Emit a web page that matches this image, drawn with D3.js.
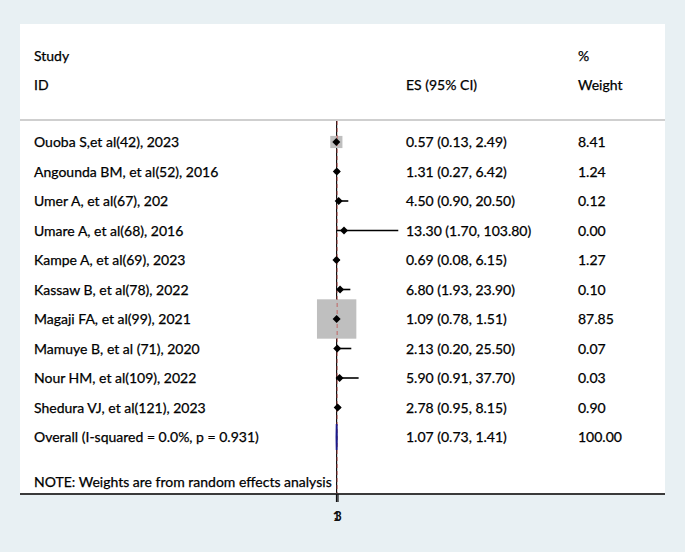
<!DOCTYPE html>
<html><head><meta charset="utf-8">
<script src="https://cdn.jsdelivr.net/npm/d3@7"></script>
<style>
html,body{margin:0;padding:0;background:#e8f0f3;}
svg{display:block;font-family:Lato, "Open Sans", sans-serif;}
</style></head>
<body>
<svg id="chart" width="685" height="552"></svg>
<script>
const studies = ["Ouoba S,et al(42), 2023","Angounda BM, et al(52), 2016","Umer A, et al(67), 202","Umare A, et al(68),  2016","Kampe A, et al(69), 2023","Kassaw B, et al(78), 2022","Magaji FA, et al(99), 2021","Mamuye B, et al (71), 2020","Nour HM, et al(109), 2022","Shedura VJ, et al(121), 2023"];
const es = [0.57,1.31,4.50,13.30,0.69,6.80,1.09,2.13,5.90,2.78];
const lower = [0.13,0.27,0.90,1.70,0.08,1.93,0.78,0.20,0.91,0.95];
const upper = [2.49,6.42,20.50,103.80,6.15,23.90,1.51,25.50,37.70,8.15];
const weights = [8.41,1.24,0.12,0.00,1.27,0.10,87.85,0.07,0.03,0.90];
const overall = {label:"Overall  (I-squared = 0.0%, p = 0.931)", es:1.07, lo:0.73, hi:1.41, w:100.00};
const tickValues = [0, 2.5];
const tickLabels = ["1", "3"];

const svg = d3.select("#chart");
const fmt = d3.format(".2f");
const panel = {x0:20, x1:665, y0:24, y1:494};
svg.append("rect").attr("x",panel.x0).attr("y",panel.y0).attr("width",panel.x1-panel.x0).attr("height",panel.y1-panel.y0).attr("fill","#fff");

const x = d3.scaleLinear().domain([0,104]).range([336,398.4]);
const rows = studies.map((s,i)=>i);
const y = d3.scalePoint().domain(d3.range(11)).range([142,437]);
const fs = 14;
const colES = 406;

function styleText(g){ g.attr("font-size",fs).attr("fill","#000").attr("stroke","#000").attr("stroke-width",0.25); }

// header
const hdr = svg.append("g").call(styleText);
hdr.append("text").attr("x",34).attr("y",61).text("Study");
hdr.append("text").attr("x",34).attr("y",90).text("ID");
hdr.append("text").attr("x",colES).attr("y",90).text("ES (95% CI)");
hdr.append("text").attr("x",578).attr("y",61).text("%");
hdr.append("text").attr("x",578).attr("y",90).text("Weight");
svg.append("line").attr("x1",panel.x0).attr("x2",panel.x1).attr("y1",120).attr("y2",120).attr("stroke","#cfcfcf").attr("stroke-width",2);

// null line
svg.append("line").attr("x1",x(1)).attr("x2",x(1)).attr("y1",121).attr("y2",502).attr("stroke","#111").attr("stroke-width",1.2);

// boxes
const bk = 4.2;
svg.append("g").selectAll("rect").data(rows).join("rect")
  .attr("x",i=>x(es[i])-bk*Math.sqrt(weights[i])/2)
  .attr("y",i=>y(i)-bk*Math.sqrt(weights[i])/2)
  .attr("width",i=>bk*Math.sqrt(weights[i]))
  .attr("height",i=>bk*Math.sqrt(weights[i]))
  .attr("fill","#bfbfbf");

// overall dashed line
svg.append("line").attr("x1",x(overall.es)+0.5).attr("x2",x(overall.es)+0.5).attr("y1",121).attr("y2",494)
  .attr("stroke","#c0504d").attr("stroke-width",1).attr("stroke-dasharray","4,3").attr("opacity",0.8);

// CI lines
const xmax = x.domain()[1];
svg.append("g").selectAll("line").data(rows).join("line")
  .attr("x1",i=>x(lower[i])).attr("x2",i=>x(Math.min(upper[i],xmax)))
  .attr("y1",i=>y(i)).attr("y2",i=>y(i)).attr("stroke","#000").attr("stroke-width",1.6);
// arrows for truncated CIs
svg.append("g").selectAll("path").data(rows.filter(i=>upper[i]>xmax)).join("path")
  .attr("d",i=>{const ax=x(xmax), ay=y(i); return `M${ax-3},${ay-7} Q${ax+1},${ay} ${ax-3},${ay+7}`;})
  .attr("fill","none").attr("stroke","#000").attr("stroke-width",1.6);

// point diamonds
const ds = 4;
svg.append("g").selectAll("path").data(rows).join("path")
  .attr("d",i=>{const cx=x(es[i]), cy=y(i); return `M${cx-ds},${cy} L${cx},${cy-ds} L${cx+ds},${cy} L${cx},${cy+ds} Z`;})
  .attr("fill","#000");

// overall diamond
const oy = y(10);
svg.append("path")
  .attr("d",`M${x(overall.lo)},${oy} L${x(overall.es)},${oy-13} L${x(overall.hi)},${oy} L${x(overall.es)},${oy+13} Z`)
  .attr("fill","#1a1a8c").attr("stroke","#1a1a8c").attr("stroke-width",1.8);

// row texts
const tg = svg.append("g").call(styleText);
tg.selectAll("text.s").data(rows).join("text").attr("class","s").attr("x",34).attr("y",i=>y(i)+5).text(i=>studies[i]);
tg.selectAll("text.e").data(rows).join("text").attr("class","e").attr("x",colES).attr("y",i=>y(i)+5)
  .text(i=>`${fmt(es[i])} (${fmt(lower[i])}, ${fmt(upper[i])})`);
tg.selectAll("text.w").data(rows).join("text").attr("class","w").attr("x",578).attr("y",i=>y(i)+5).text(i=>fmt(weights[i]));
tg.append("text").attr("x",34).attr("y",oy+5).text(overall.label);
tg.append("text").attr("x",colES).attr("y",oy+5).text(`${fmt(overall.es)} (${fmt(overall.lo)}, ${fmt(overall.hi)})`);
tg.append("text").attr("x",578).attr("y",oy+5).text(fmt(overall.w));
tg.append("text").attr("x",34).attr("y",487).text("NOTE: Weights are from random effects analysis");

// bottom line
svg.append("line").attr("x1",panel.x0).attr("x2",panel.x1).attr("y1",494).attr("y2",494).attr("stroke","#3a3a3a").attr("stroke-width",2);

// axis
const axis = d3.axisBottom(x).tickValues(tickValues).tickSize(8).tickFormat((d,i)=>tickLabels[i]);
const ag = svg.append("g").attr("transform","translate(0,494)").call(axis);
ag.select(".domain").remove();
ag.selectAll(".tick line").attr("stroke","#111").attr("stroke-width",1.2);
ag.selectAll(".tick text").attr("font-family","Lato, sans-serif").attr("font-size",13).attr("font-weight","bold").attr("fill","#111").attr("dy","1.2em");
</script>
</body></html>
